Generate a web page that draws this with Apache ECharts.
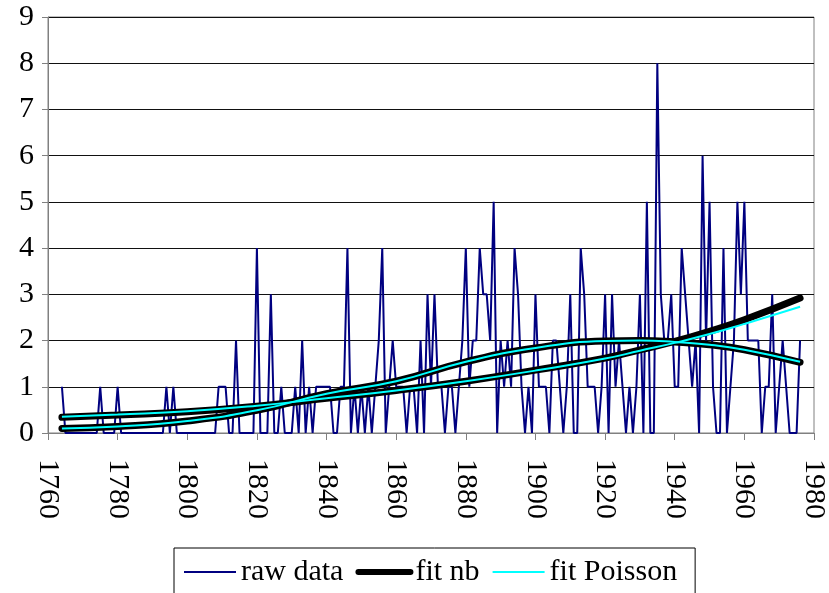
<!DOCTYPE html>
<html>
<head>
<meta charset="utf-8">
<style>
  html, body { margin: 0; padding: 0; background: #fff; }
  #chart { width: 829px; height: 593px; }
</style>
<script src="https://cdn.jsdelivr.net/npm/echarts@6/dist/echarts.min.js"></script>
</head>
<body>
<div id="chart"></div>
<script>
// yearly counts, first value is 1764
var rawStart = 1764
var rawCounts = [
  1, 0, 0, 0, 0, 0,
  0, 0, 0, 0, 0, 1, 0, 0, 0, 0,
  1, 0, 0, 0, 0, 0, 0, 0, 0, 0,
  0, 0, 0, 0, 1, 0, 1, 0, 0, 0,
  0, 0, 0, 0, 0, 0, 0, 0, 0, 1,
  1, 1, 0, 0, 2, 0, 0, 0, 0, 0,
  4, 0, 0, 0, 3, 0, 0, 1, 0, 0,
  0, 1, 0, 2, 0, 1, 0, 1, 1, 1,
  1, 1, 0, 0, 1, 1, 4, 0, 1, 0,
  1, 0, 1, 0, 1, 2, 4, 0, 1, 2,
  1, 1, 1, 0, 1, 1, 0, 2, 0, 3,
  1, 3, 1, 1, 0, 1, 1, 0, 1, 2,
  4, 1, 2, 2, 4, 3, 3, 2, 5, 0,
  2, 1, 2, 1, 4, 3, 1, 0, 1, 0,
  3, 1, 1, 1, 0, 2, 2, 1, 0, 1,
  3, 0, 0, 4, 3, 1, 1, 1, 0, 1,
  3, 0, 3, 1, 2, 1, 0, 1, 0, 1,
  3, 0, 5, 0, 0, 8, 3, 2, 2, 3,
  1, 1, 4, 3, 2, 1, 2, 0, 6, 2,
  5, 1, 0, 0, 4, 0, 1, 2, 5, 3,
  5, 2, 2, 2, 2, 0, 1, 1, 3, 0,
  1, 2, 1, 0, 0, 0, 2
]

// fitted curves, read at these years
var fitYears = [1764, 1780, 1800, 1820, 1840, 1860, 1880, 1900, 1920, 1930, 1940, 1950, 1960, 1976]
var nbLinear = [0.34, 0.39, 0.46, 0.58, 0.75, 0.92, 1.12, 1.36, 1.62, 1.80, 1.98, 2.20, 2.45, 2.92]
var nbQuad = [0.10, 0.14, 0.26, 0.49, 0.85, 1.12, 1.54, 1.84, 1.99, 2.00, 1.97, 1.91, 1.80, 1.53]
var poisLinear = [0.35, 0.40, 0.47, 0.59, 0.75, 0.92, 1.12, 1.35, 1.61, 1.78, 1.95, 2.14, 2.36, 2.73]
var poisQuad = [0.10, 0.14, 0.26, 0.49, 0.85, 1.12, 1.54, 1.84, 1.99, 2.00, 1.97, 1.91, 1.80, 1.54]

var yTicks = [0, 1, 2, 3, 4, 5, 6, 7, 8, 9]

function pairs (years, vals) {
  return vals.map(function (v, i) { return [years[i], v] })
}

var rawData = rawCounts.map(function (v, i) { return [rawStart + i, v] })

var font = 'Liberation Serif, Times New Roman, serif'

var chart = echarts.init(document.getElementById('chart'))
chart.setOption({
  animation: false,
  backgroundColor: '#fff',
  grid: {
    left: 48,
    right: 12,
    top: 17,
    bottom: 160,
    show: true,
    borderColor: '#808080',
    borderWidth: 1
  },
  xAxis: {
    type: 'value',
    min: 1760,
    max: 1980,
    interval: 20,
    axisLine: { show: true, lineStyle: { color: '#808080', width: 1 } },
    axisTick: { show: true, length: 7, lineStyle: { color: '#808080' } },
    splitLine: { show: false },
    axisLabel: {
      rotate: -90,
      margin: 26,
      color: '#000',
      fontFamily: font,
      fontSize: 30,
      formatter: function (v) { return String(v) }
    }
  },
  yAxis: {
    type: 'value',
    min: yTicks[0],
    max: yTicks[yTicks.length - 1],
    interval: 1,
    axisLine: { show: true, lineStyle: { color: '#808080', width: 1 } },
    axisTick: { show: true, length: 6, lineStyle: { color: '#808080' } },
    splitLine: { show: true, lineStyle: { color: '#111', width: 1 } },
    axisLabel: {
      margin: 14,
      color: '#000',
      fontFamily: font,
      fontSize: 30
    }
  },
  legend: {
    data: [
      { name: 'raw data', lineStyle: { width: 2 } },
      { name: 'fit nb', lineStyle: { width: 6 } },
      { name: 'fit Poisson', lineStyle: { width: 2 } }
    ],
    left: 174,
    top: 548,
    orient: 'horizontal',
    padding: [9, 18, 20, 9],
    itemGap: 12,
    itemWidth: 52,
    itemHeight: 14,
    borderColor: '#000',
    borderWidth: 1,
    itemStyle: { opacity: 0 },
    textStyle: { fontFamily: font, fontSize: 30, color: '#000' }
  },
  series: [
    {
      name: 'raw data',
      type: 'line',
      data: rawData,
      symbol: 'none',
      lineStyle: { color: '#000080', width: 2 },
      itemStyle: { color: '#000080' }
    },
    {
      name: 'fit nb',
      type: 'line',
      data: pairs(fitYears, nbLinear),
      symbol: 'none',
      smooth: true,
      lineStyle: { color: '#000', width: 7, cap: 'round' },
      itemStyle: { color: '#000' }
    },
    {
      name: 'fit nb',
      type: 'line',
      data: pairs(fitYears, nbQuad),
      symbol: 'none',
      smooth: true,
      lineStyle: { color: '#000', width: 7, cap: 'round' },
      itemStyle: { color: '#000' }
    },
    {
      name: 'fit Poisson',
      type: 'line',
      data: pairs(fitYears, poisLinear),
      symbol: 'none',
      smooth: true,
      lineStyle: { color: '#00ffff', width: 2 },
      itemStyle: { color: '#00ffff' }
    },
    {
      name: 'fit Poisson',
      type: 'line',
      data: pairs(fitYears, poisQuad),
      symbol: 'none',
      smooth: true,
      lineStyle: { color: '#00ffff', width: 2 },
      itemStyle: { color: '#00ffff' }
    }
  ]
})
</script>
</body>
</html>
